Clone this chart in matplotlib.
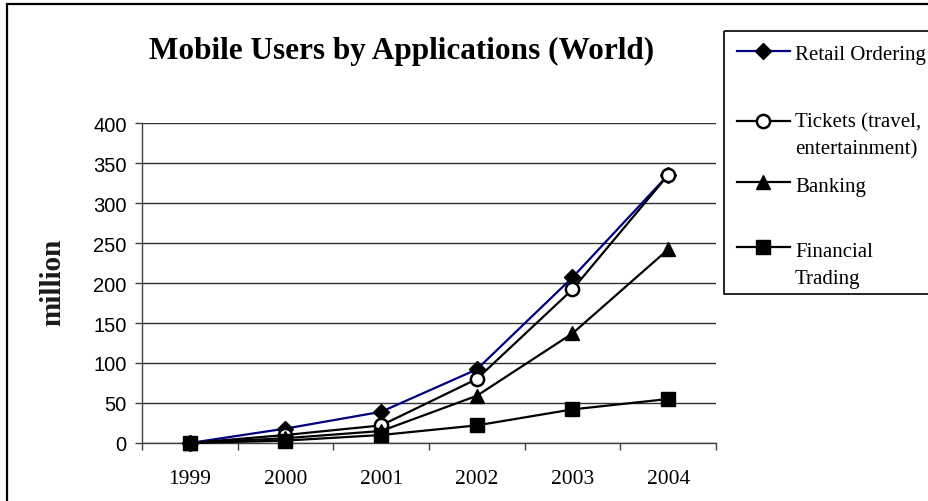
import matplotlib
matplotlib.use("Agg")
import matplotlib.pyplot as plt
from matplotlib.lines import Line2D
from matplotlib.patches import Rectangle

years = ["1999", "2000", "2001", "2002", "2003", "2004"]
retail_ordering = [0, 18, 39, 92, 207, 335]
tickets = [0, 10, 22, 80, 192, 335]
banking = [0, 6, 15, 59, 137, 242]
financial_trading = [0, 3, 10, 22, 42, 55]
y_ticks = [0, 50, 100, 150, 200, 250, 300, 350, 400]

series = [
    ("Retail Ordering", retail_ordering, dict(color="#000080", marker="D", ms=8.5, mfc="black", mec="black")),
    ("Tickets (travel,\nentertainment)", tickets, dict(color="black", marker="o", ms=9.5, mfc="white", mec="black", mew=1.8)),
    ("Banking", banking, dict(color="black", marker="^", ms=10, mfc="black", mec="black")),
    ("Financial\nTrading", financial_trading, dict(color="black", marker="s", ms=9.5, mfc="black", mec="black")),
]

W, H = 929, 502
fig = plt.figure(figsize=(W / 100, H / 100), dpi=100)

serif = "Liberation Serif"
sans = "Liberation Sans"

# outer chart frame (open on the right and bottom)
fig.add_artist(Rectangle((7 / W, -0.1), 1.2, 1.1 - 5 / H, transform=fig.transFigure,
                         fill=False, ec="black", lw=1.6))

ax = fig.add_axes([142 / W, 1 - 444 / H, (716 - 142) / W, (444 - 124) / H])
x = list(range(len(years)))
for label, vals, style in series:
    ax.plot(x, vals, lw=1.6, label=label, zorder=3, clip_on=False, **style)

ax.set_xlim(-0.5, len(years) - 0.5)
ax.set_ylim(0, 400)
ax.set_yticks(y_ticks)
ax.set_yticklabels([str(v) for v in y_ticks], fontfamily=sans, fontsize=14.5)
ax.set_xticks(x)
ax.set_xticklabels(years, fontfamily=serif, fontsize=15.5)
ax.set_xticks([i - 0.5 for i in range(len(years) + 1)], minor=True)
ax.tick_params(axis="x", which="major", length=0, pad=19)
ax.tick_params(axis="x", which="minor", length=5, width=1, color="#404040", direction="out")
ax.tick_params(axis="y", length=5, width=1, color="#404040", direction="out", pad=6)
ax.yaxis.grid(True, color="#303030", lw=1)
ax.set_axisbelow(True)
for side in ("top", "right"):
    ax.spines[side].set_visible(False)
for side in ("left", "bottom"):
    ax.spines[side].set_color("#404040")
    ax.spines[side].set_linewidth(1)

fig.text(402 / W, 1 - 51 / H, "Mobile Users by Applications (World)", ha="center", va="center",
         fontfamily=serif, fontweight="bold", fontsize=22.5)
fig.text(53 / W, 1 - 282 / H, "million", ha="center", va="center", rotation=90,
         fontfamily=serif, fontweight="bold", fontsize=21, color="#1a1a1a")

# legend panel
lax = fig.add_axes([724 / W, 1 - 295 / H, (W - 724 + 20) / W, (295 - 32) / H])
lax.set_xlim(724, W + 20)
lax.set_ylim(295, 32)
lax.set_axis_off()
lax.add_patch(Rectangle((724, 32), 400, 263, fill=False, ec="black", lw=1.2, clip_on=False))
handle_y = [52, 122, 183, 248]
text_y = [56, 123, 188, 253]
line_gap = 27
for (label, vals, style), hy, ty in zip(series, handle_y, text_y):
    lax.add_line(Line2D([737, 763.5, 790], [hy, hy, hy], lw=1.6, markevery=[1], **style))
    for i, part in enumerate(label.split("\n")):
        lax.text(795, ty + i * line_gap, part, ha="left", va="center",
                 fontfamily=serif, fontsize=15)

fig.savefig("out.png", dpi=100)
